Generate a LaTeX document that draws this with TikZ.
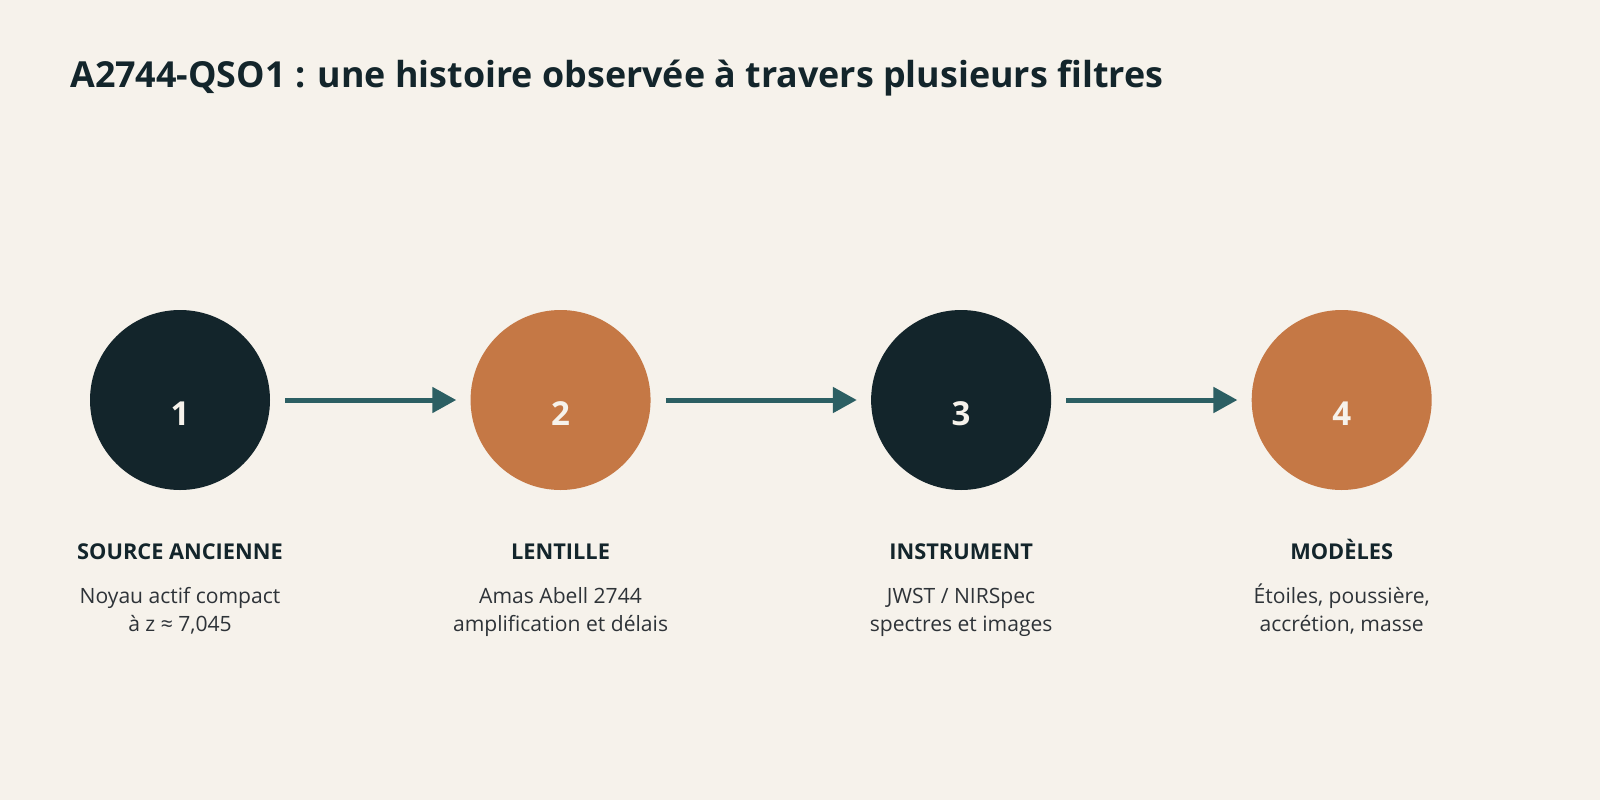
\documentclass[tikz,border=0pt]{standalone}
\usepackage{fontspec}
\setmainfont{Open Sans}
\usetikzlibrary{arrows.meta,positioning}
\definecolor{paper}{HTML}{F6F2EB}
\definecolor{ink}{HTML}{13252B}
\definecolor{clay}{HTML}{C57845}
\definecolor{lensteal}{HTML}{2C5F63}
\definecolor{prose}{HTML}{2E3338}
\tikzstyle{stage}=[circle,minimum size=4.5cm,inner sep=0pt,text=paper,font=\bfseries\fontsize{23.5}{23.5}\selectfont,text height=1.25cm,text depth=0pt]
\tikzstyle{darkstage}=[stage,fill=ink]
\tikzstyle{warmstage}=[stage,fill=clay]
\tikzstyle{heading}=[inner sep=0pt,text depth=0pt,text=ink,font=\bfseries\fontsize{15.5}{18}\selectfont]
\tikzstyle{detail}=[inner sep=0pt,align=center,text=prose,font=\fontsize{15}{19.9}\selectfont]

\begin{document}
\begin{tikzpicture}[>={Triangle[length=0.6cm,width=0.625cm]},shorten <=0.375cm,shorten >=0.35cm]

  \fill[paper] (0,0) rectangle (40,-20);
  \node[inner sep=0pt,anchor=base west,text=ink,font=\bfseries\fontsize{25.5}{30}\selectfont] (title) at (1.75,-2.175) {A2744-QSO1 : une histoire observée à travers plusieurs filtres};

  \node[darkstage] (S1) at (4.5,-10) {1};
  \node[warmstage] (S2) [right=5cm of S1] {2};
  \node[darkstage] (S3) [right=5.5cm of S2] {3};
  \node[warmstage] (S4) [right=5cm of S3] {4};

  \node[heading] (H1) [below=1.725cm of S1,anchor=base] {SOURCE ANCIENNE};
  \node[heading] (H2) [below=1.725cm of S2,anchor=base] {LENTILLE};
  \node[heading] (H3) [below=1.725cm of S3,anchor=base] {INSTRUMENT};
  \node[heading] (H4) [below=1.725cm of S4,anchor=base] {MODÈLES};

  \node[detail] (D1) [below=1.8cm of H1,anchor=base] {Noyau actif compact\\à z ≈ 7,045};
  \node[detail] (D2) [below=1.8cm of H2,anchor=base] {Amas Abell 2744\\amplification et délais};
  \node[detail] (D3) [below=1.8cm of H3,anchor=base] {JWST / NIRSpec\\spectres et images};
  \node[detail] (D4) [below=1.8cm of H4,anchor=base] {Étoiles, poussière,\\accrétion, masse};

  \path[->,color=lensteal,line width=0.125cm]
        (S1) edge (S2)
        (S2) edge (S3)
        (S3) edge (S4);
\end{tikzpicture}
\end{document}
